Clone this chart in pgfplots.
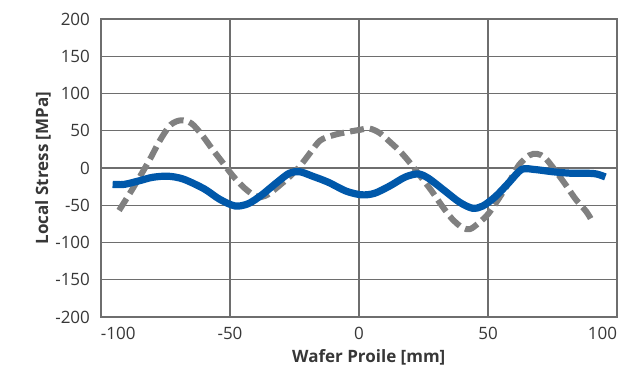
\documentclass[border=0pt]{standalone}
\usepackage{fontspec}
\setmainfont{Open Sans}[BoldFont={Open Sans Bold}]
\usepackage{pgfplots}
\pgfplotsset{compat=1.18}
\definecolor{lineblue}{RGB}{0,88,170}
\definecolor{linegray}{RGB}{128,128,128}
\definecolor{gridgray}{RGB}{110,110,110}
\definecolor{txt}{RGB}{55,55,55}
\begin{document}
\begin{tikzpicture}
\begin{axis}[
  scale only axis,
  width=258pt, height=149pt,
  xmin=-100, xmax=100, ymin=-200, ymax=200,
  xtick={-100,-50,0,50,100},
  xticklabels={\makebox[0pt][l]{-100},-50,0,50,\makebox[0pt][r]{100}},
  ytick={-200,-150,...,200},
  /pgf/number format/assume math mode=true,
  major tick length=0pt,
  grid=major,
  major grid style={draw=gridgray, line width=0.7pt},
  axis line style={draw=gridgray, line width=0.8pt},
  tick label style={font=\fontsize{8.5}{10}\selectfont, text=txt},
  yticklabel style={xshift=-2pt},
  xticklabel style={yshift=-1.5pt},
  every axis y label/.style={at={(axis description cs:-0.1124,0.5)}, rotate=90, anchor=center, text=txt, font=\fontsize{8.5}{10}\selectfont},
  every axis x label/.style={at={(axis description cs:0.519,-0.134)}, anchor=center, text=txt, font=\fontsize{8.5}{10}\selectfont},
  xlabel={\textbf{Wafer Proile [mm]}},
  ylabel={\textbf{Local Stress [MPa]}},
  clip=false,
]
\addplot[draw=linegray, line width=3pt, dash pattern=on 7pt off 3pt, smooth, tension=0.5] coordinates {
(-93,-57) (-89,-35) (-85,-12) (-81,12) (-77,38) (-73,58) (-69,64) (-65,60) (-61,45) (-57,26) (-53,8) (-49,-10) (-45,-25) (-41,-36) (-38,-39) (-35,-35) (-31,-24) (-27,-12) (-23,2) (-19,20) (-15,37) (-10,44) (-5,48) (0,51) (4,53) (8,47) (12,35) (16,22) (20,6) (24,-12) (28,-30) (32,-50) (36,-68) (40,-80) (43,-82) (46,-75) (50,-62) (54,-42) (58,-20) (62,4) (66,17) (69,19) (72,14) (76,-3) (80,-22) (84,-42) (88,-58) (90,-69)
};
\addplot[draw=lineblue, line width=3.6pt, smooth, tension=0.5] coordinates {
(-95.5,-22) (-91,-22) (-85,-17) (-80,-12.5) (-74,-11) (-68,-15) (-60,-28) (-54,-42) (-48,-51) (-43,-48) (-38,-37) (-32,-20) (-27,-7) (-23,-5) (-18,-11) (-12,-19) (-5,-31) (1,-36) (6,-34) (12,-24) (18,-12) (23,-8) (27,-14) (33,-30) (39,-46) (44,-54) (48,-51) (53,-38) (58,-20) (63,-2) (68,-2) (75,-5) (82,-7) (88,-7) (92,-8) (95.5,-12)
};
\end{axis}
\path ([xshift=-50.5pt,yshift=-25.5pt]current axis.south west) rectangle ([xshift=11pt,yshift=9.5pt]current axis.north east);
\end{tikzpicture}
\end{document}
